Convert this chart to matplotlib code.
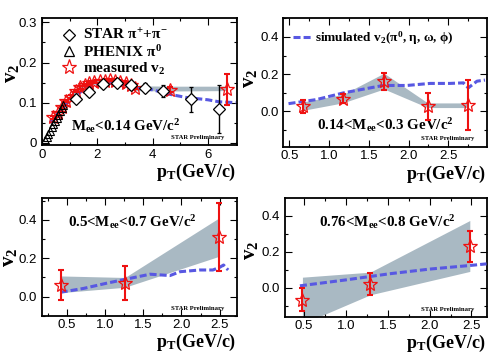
import matplotlib
matplotlib.use("Agg")
import matplotlib.pyplot as plt
from matplotlib.ticker import MultipleLocator
from matplotlib.lines import Line2D

plt.rcParams['font.family'] = ['Liberation Sans', 'DejaVu Sans']
plt.rcParams['mathtext.fontset'] = 'custom'
plt.rcParams['mathtext.rm'] = 'Liberation Serif:bold'
plt.rcParams['mathtext.it'] = 'Liberation Serif:bold'
plt.rcParams['mathtext.bf'] = 'Liberation Serif:bold'

SERIF = dict(family='Liberation Serif', weight='bold')
BLUE = '#5858e2'
BAND = '#a9b9c3'
RED = '#ee1111'
DASH = (2.3, 1.0)

# ---- panel 1 : Mee < 0.14
p1_star_pt = [0.42, 0.57, 0.72, 0.87, 1.05, 1.23, 1.38, 1.56, 1.72, 1.90, 2.10,
              2.29, 2.47, 2.65, 2.83, 3.04, 3.21, 3.37, 4.63, 6.68]
p1_star_v2 = [0.063, 0.073, 0.088, 0.104, 0.115, 0.129, 0.138, 0.144, 0.148, 0.152,
              0.153, 0.154, 0.156, 0.154, 0.152, 0.148, 0.143, 0.136, 0.132, 0.133]
p1_star_err = [0.003] * 18 + [0.006, 0.038]
p1_band_lo = [0.057, 0.067, 0.082, 0.098, 0.109, 0.123, 0.132, 0.138, 0.142, 0.146,
              0.147, 0.148, 0.150, 0.148, 0.146, 0.142, 0.137, 0.130, 0.129, 0.130]
p1_band_hi = [0.069, 0.079, 0.094, 0.110, 0.121, 0.135, 0.144, 0.150, 0.154, 0.158,
              0.159, 0.160, 0.162, 0.160, 0.158, 0.154, 0.149, 0.142, 0.141, 0.141]

star_pt = [1.22, 1.72, 2.22, 2.73, 3.22, 3.72, 4.37, 5.38, 6.39]
star_v2 = [0.108, 0.126, 0.146, 0.149, 0.145, 0.137, 0.128, 0.108, 0.085]
star_err = [0.004, 0.004, 0.005, 0.006, 0.008, 0.011, 0.015, 0.032, 0.060]

phenix_pt = [0.12, 0.18, 0.24, 0.30, 0.36, 0.42, 0.48, 0.54, 0.60, 0.66, 0.72, 0.78]
phenix_v2 = [0.006, 0.014, 0.022, 0.030, 0.038, 0.046, 0.054, 0.062, 0.070, 0.078,
             0.086, 0.094]

p1_sim_pt = [0.3, 0.6, 1.0, 1.5, 2.0, 2.4, 2.8, 3.2, 3.6, 4.0, 4.6, 5.2, 6.0, 6.4, 7.0]
p1_sim_v2 = [0.05, 0.075, 0.105, 0.132, 0.145, 0.148, 0.146, 0.14, 0.135, 0.132,
             0.121, 0.113, 0.107, 0.102, 0.100]

# ---- panel 2 : 0.14 < Mee < 0.3
p2_pt = [0.67, 1.17, 1.69, 2.24, 2.75]
p2_v2 = [0.027, 0.067, 0.162, 0.027, 0.034]
p2_err = [0.034, 0.024, 0.045, 0.074, 0.135]
p2_band_lo = [0.005, 0.045, 0.120, 0.020, 0.020]
p2_band_hi = [0.050, 0.090, 0.205, 0.045, 0.045]
p2_sim_pt = [0.49, 0.84, 1.18, 1.68, 1.98, 2.27, 2.52, 2.69, 2.75, 2.86, 2.96]
p2_sim_v2 = [0.041, 0.063, 0.099, 0.139, 0.139, 0.150, 0.150, 0.153, 0.126, 0.162, 0.168]

# ---- panel 3 : 0.5 < Mee < 0.7
p3_pt = [0.42, 1.26, 2.49]
p3_v2 = [0.061, 0.070, 0.310]
p3_err = [0.080, 0.088, 0.177]
p3_band_lo = [0.021, 0.049, 0.210]
p3_band_hi = [0.108, 0.100, 0.410]
p3_sim_pt = [0.42, 0.72, 1.02, 1.26, 1.59, 1.85, 1.98, 2.24, 2.41, 2.50, 2.55, 2.61]
p3_sim_v2 = [0.023, 0.043, 0.070, 0.090, 0.117, 0.110, 0.130, 0.139, 0.139, 0.153,
             0.165, 0.139]

# ---- panel 4 : 0.76 < Mee < 0.8
p4_pt = [0.48, 1.29, 2.48]
p4_v2 = [-0.065, 0.022, 0.230]
p4_err = [0.065, 0.062, 0.086]
p4_band_lo = [-0.200, -0.039, 0.091]
p4_band_hi = [0.059, 0.087, 0.374]
p4_sim_pt = [0.45, 1.0, 1.52, 2.0, 2.48, 2.68]
p4_sim_v2 = [0.011, 0.044, 0.078, 0.104, 0.124, 0.133]

fig = plt.figure(figsize=(4.98, 3.61), dpi=100)
ax1 = fig.add_axes([0.084, 0.598, 0.391, 0.351])
ax2 = fig.add_axes([0.569, 0.594, 0.408, 0.355])
ax3 = fig.add_axes([0.084, 0.125, 0.391, 0.326])
ax4 = fig.add_axes([0.572, 0.123, 0.405, 0.328])


def style(ax, xlim, ylim, xmaj, xmin, ymaj, ymin, v2x=-0.14, v2y=0.55):
    ax.set_xlim(*xlim)
    ax.set_ylim(*ylim)
    ax.xaxis.set_major_locator(MultipleLocator(xmaj))
    ax.xaxis.set_minor_locator(MultipleLocator(xmin))
    ax.yaxis.set_major_locator(MultipleLocator(ymaj))
    ax.yaxis.set_minor_locator(MultipleLocator(ymin))
    ax.tick_params(which='both', direction='in', top=True, right=True,
                   labelsize=9.5, width=0.8)
    ax.tick_params(which='major', length=5)
    ax.tick_params(which='minor', length=2.5)
    ax.tick_params(axis='x', pad=2.5)
    for s in ax.spines.values():
        s.set_linewidth(1.3)
    ax.text(v2x, v2y, r'$\mathbf{v_2}$', transform=ax.transAxes, rotation=90,
            fontsize=15, ha='center', va='center')
    ax.text(1.0, -0.135, r'$\mathbf{p_T}$(GeV/c)', transform=ax.transAxes,
            fontsize=13, ha='right', va='top', **SERIF)
    ax.text(0.94, 0.04, 'STAR Preliminary', transform=ax.transAxes,
            fontsize=4.8, ha='right', va='bottom', **SERIF)


def measured(ax, pt, v2, err, lo, hi):
    ax.fill_between(pt, lo, hi, color=BAND, lw=0, zorder=1)
    ax.errorbar(pt, v2, yerr=err, fmt='none', ecolor=RED, elinewidth=1.5,
                capsize=2, capthick=1.5, zorder=4)
    ax.plot(pt, v2, '*', ms=10, mfc='none', mec=RED, mew=0.9, zorder=5)


def simulated(ax, pt, v2):
    ax.plot(pt, v2, color=BLUE, lw=2.2, dashes=DASH, zorder=3)


# panel 1
measured(ax1, p1_star_pt, p1_star_v2, p1_star_err, p1_band_lo, p1_band_hi)
simulated(ax1, p1_sim_pt, p1_sim_v2)
ax1.errorbar(star_pt, star_v2, yerr=star_err, fmt='D', ms=5.8, mfc='white',
             mec='black', mew=0.9, ecolor='black', elinewidth=1, capsize=1.5, zorder=6)
ax1.plot(phenix_pt, phenix_v2, '^', ms=6, mfc='none', mec='black', mew=0.8, zorder=6)
style(ax1, (0, 7.03), (-0.006, 0.31), 2, 1, 0.1, 0.05, v2x=-0.155, v2y=0.57)
ax1.set_yticklabels(['', '0', '0.1', '0.2', '0.3'])
h1 = [Line2D([], [], ls='none', marker='D', ms=6, mfc='none', mec='black', mew=0.9),
      Line2D([], [], ls='none', marker='^', ms=7, mfc='none', mec='black', mew=0.9),
      Line2D([], [], ls='none', marker='*', ms=11, mfc='none', mec=RED, mew=0.9)]
ax1.legend(h1, [r'STAR $\pi^{+}$+$\pi^{-}$', r'PHENIX $\pi^{0}$', r'measured v$_{2}$'],
           loc='upper left', bbox_to_anchor=(0.04, 1.01), frameon=False,
           prop=dict(family='Liberation Serif', weight='bold', size=11),
           handletextpad=0.3, labelspacing=0.05, handlelength=1.2, borderaxespad=0.3)
ax1.text(0.15, 0.15, r'M$_{ee}$<0.14 GeV/c$^{2}$', transform=ax1.transAxes,
         fontsize=10.8, ha='left', va='center', **SERIF)

# panel 2
measured(ax2, p2_pt, p2_v2, p2_err, p2_band_lo, p2_band_hi)
simulated(ax2, p2_sim_pt, p2_sim_v2)
style(ax2, (0.425, 2.98), (-0.19, 0.5), 0.5, 0.25, 0.2, 0.1, v2x=-0.168, v2y=0.53)
h2 = [Line2D([], [], color=BLUE, lw=2.2, dashes=DASH)]
ax2.legend(h2, [r'simulated v$_{2}$($\pi^{0}$, $\eta$, $\omega$, $\phi$)'],
           loc='upper left', bbox_to_anchor=(0.0, 0.99), frameon=False,
           prop=dict(family='Liberation Serif', weight='bold', size=9.5),
           handletextpad=0.3, handlelength=1.4, borderaxespad=0.3)
ax2.text(0.5, 0.17, r'0.14<M$_{ee}$<0.3 GeV/c$^{2}$', transform=ax2.transAxes,
         fontsize=10.8, ha='center', va='center', **SERIF)

# panel 3
measured(ax3, p3_pt, p3_v2, p3_err, p3_band_lo, p3_band_hi)
simulated(ax3, p3_sim_pt, p3_sim_v2)
style(ax3, (0.174, 2.72), (-0.1, 0.513), 0.5, 0.25, 0.2, 0.1, v2x=-0.165, v2y=0.5)
ax3.text(0.463, 0.8, r'0.5<M$_{ee}$<0.7 GeV/c$^{2}$', transform=ax3.transAxes,
         fontsize=10.8, ha='center', va='center', **SERIF)

# panel 4
measured(ax4, p4_pt, p4_v2, p4_err, p4_band_lo, p4_band_hi)
simulated(ax4, p4_sim_pt, p4_sim_v2)
style(ax4, (0.27, 2.68), (-0.16, 0.498), 0.5, 0.25, 0.2, 0.1, v2x=-0.17, v2y=0.56)
ax4.text(0.51, 0.8, r'0.76<M$_{ee}$<0.8 GeV/c$^{2}$', transform=ax4.transAxes,
         fontsize=10.8, ha='center', va='center', **SERIF)

fig.savefig('out.png', dpi=100)
